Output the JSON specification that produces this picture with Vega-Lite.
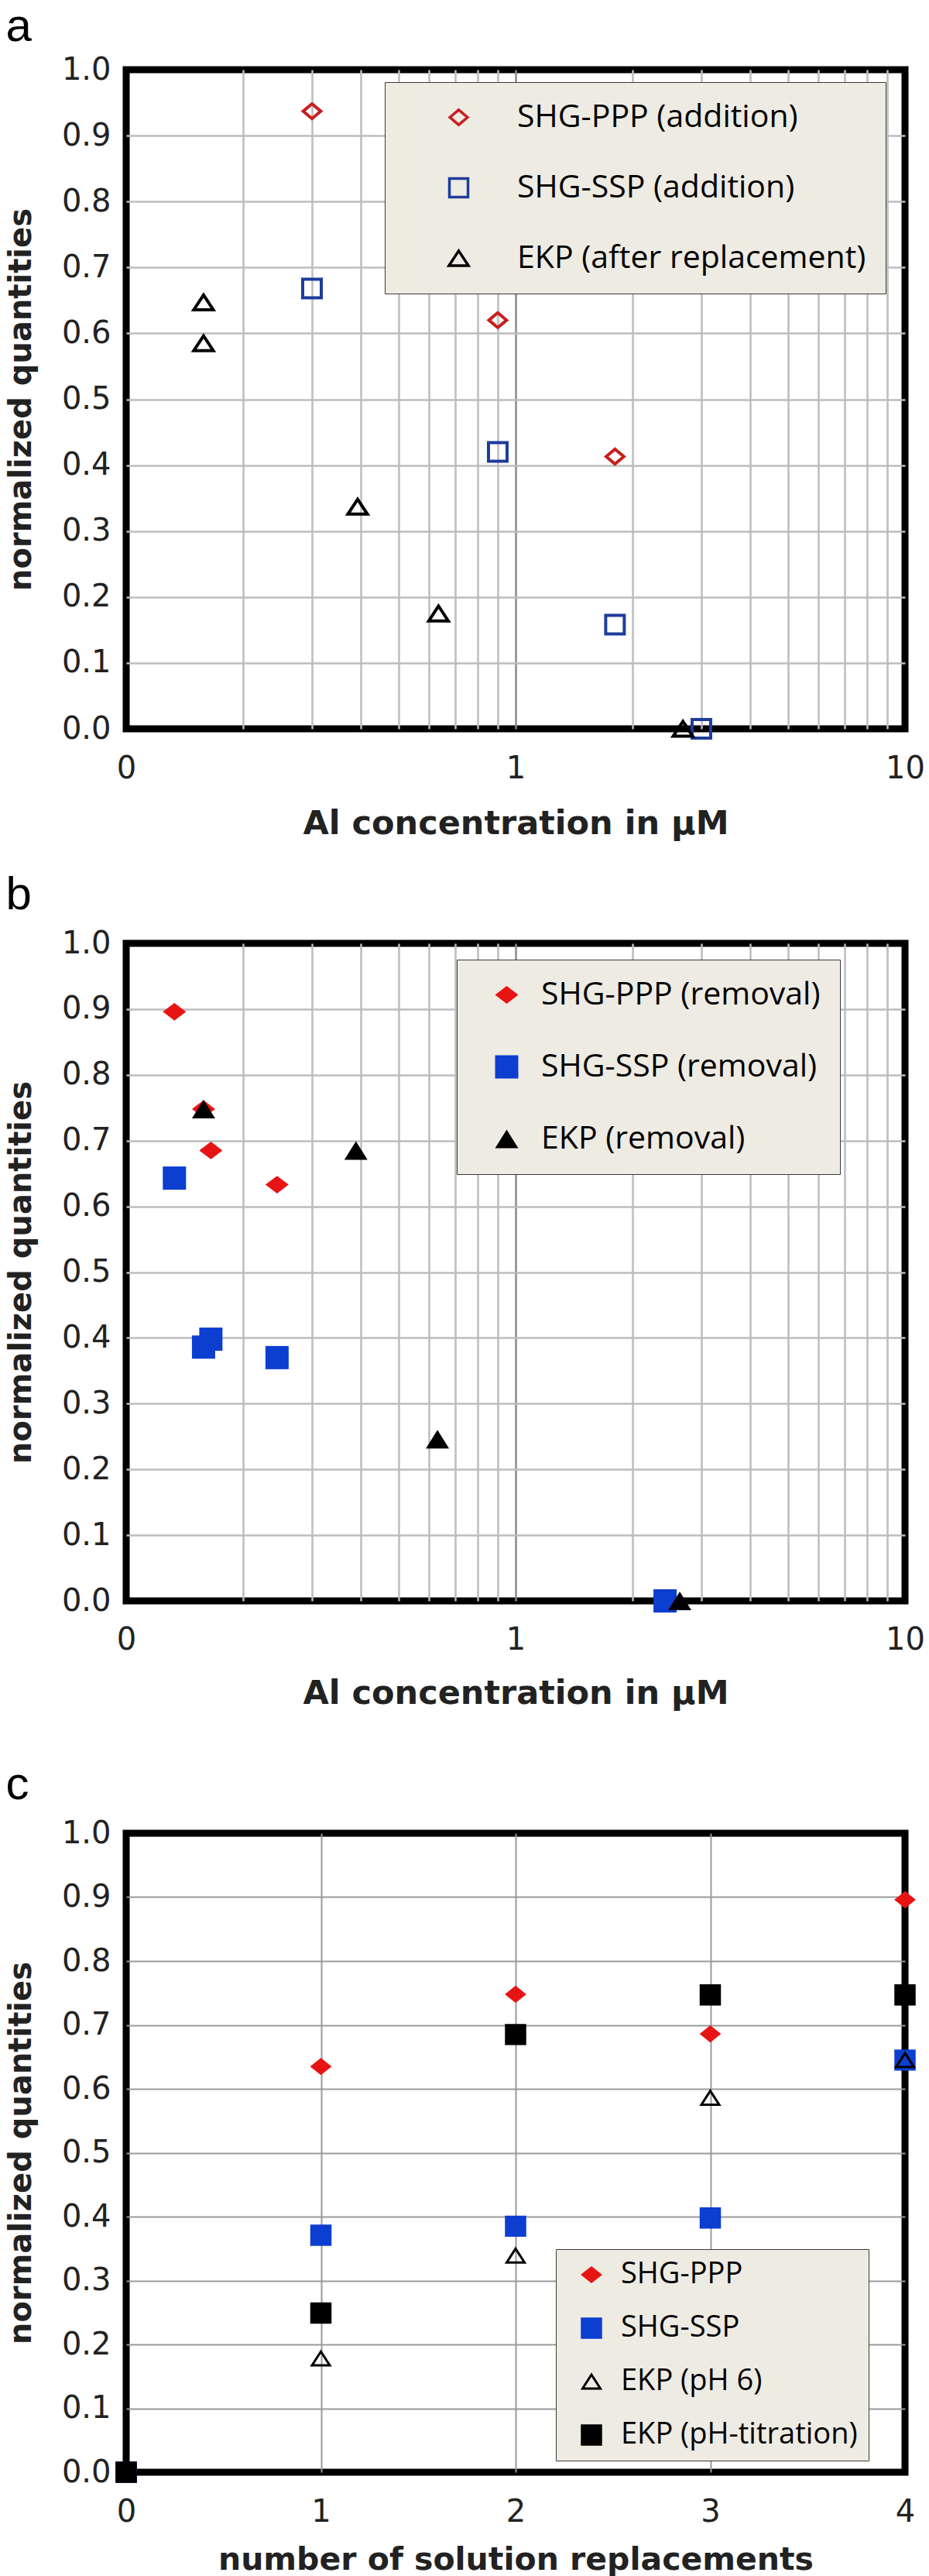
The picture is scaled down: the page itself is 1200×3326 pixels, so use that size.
{
  "$schema": "https://vega.github.io/schema/vega-lite/v6.json",
  "background": "white",
  "padding": {"left": 2, "top": 0, "right": 10, "bottom": 0},
  "datasets": {
    "a": [
      {"series": "SHG-PPP (addition)", "conc": 0.3, "value": 0.937},
      {"series": "SHG-PPP (addition)", "conc": 0.9, "value": 0.62},
      {"series": "SHG-PPP (addition)", "conc": 1.8, "value": 0.413},
      {"series": "SHG-SSP (addition)", "conc": 0.3, "value": 0.668},
      {"series": "SHG-SSP (addition)", "conc": 0.9, "value": 0.42},
      {"series": "SHG-SSP (addition)", "conc": 1.8, "value": 0.158},
      {"series": "SHG-SSP (addition)", "conc": 3.0, "value": 0},
      {"series": "EKP (after replacement)", "conc": 0.158, "value": 0.647},
      {"series": "EKP (after replacement)", "conc": 0.158, "value": 0.585},
      {"series": "EKP (after replacement)", "conc": 0.393, "value": 0.337},
      {"series": "EKP (after replacement)", "conc": 0.634, "value": 0.175},
      {"series": "EKP (after replacement)", "conc": 2.69, "value": 0}
    ],
    "b": [
      {"series": "SHG-PPP (removal)", "conc": 0.133, "value": 0.896},
      {"series": "SHG-PPP (removal)", "conc": 0.158, "value": 0.748},
      {"series": "SHG-PPP (removal)", "conc": 0.165, "value": 0.685},
      {"series": "SHG-PPP (removal)", "conc": 0.244, "value": 0.633},
      {"series": "SHG-SSP (removal)", "conc": 0.133, "value": 0.643},
      {"series": "SHG-SSP (removal)", "conc": 0.158, "value": 0.386},
      {"series": "SHG-SSP (removal)", "conc": 0.165, "value": 0.398},
      {"series": "SHG-SSP (removal)", "conc": 0.244, "value": 0.37},
      {"series": "SHG-SSP (removal)", "conc": 2.42, "value": 0},
      {"series": "EKP (removal)", "conc": 0.158, "value": 0.748},
      {"series": "EKP (removal)", "conc": 0.389, "value": 0.685},
      {"series": "EKP (removal)", "conc": 0.63, "value": 0.246},
      {"series": "EKP (removal)", "conc": 2.64, "value": 0}
    ],
    "c": [
      {"series": "SHG-PPP", "n": 0, "value": 0},
      {"series": "SHG-PPP", "n": 1, "value": 0.635},
      {"series": "SHG-PPP", "n": 2, "value": 0.748},
      {"series": "SHG-PPP", "n": 3, "value": 0.686},
      {"series": "SHG-PPP", "n": 4, "value": 0.896},
      {"series": "SHG-SSP", "n": 0, "value": 0},
      {"series": "SHG-SSP", "n": 1, "value": 0.371},
      {"series": "SHG-SSP", "n": 2, "value": 0.385},
      {"series": "SHG-SSP", "n": 3, "value": 0.398},
      {"series": "SHG-SSP", "n": 4, "value": 0.645},
      {"series": "EKP (pH 6)", "n": 0, "value": 0},
      {"series": "EKP (pH 6)", "n": 1, "value": 0.178},
      {"series": "EKP (pH 6)", "n": 2, "value": 0.339},
      {"series": "EKP (pH 6)", "n": 3, "value": 0.586},
      {"series": "EKP (pH 6)", "n": 4, "value": 0.645},
      {"series": "EKP (pH-titration)", "n": 0, "value": 0},
      {"series": "EKP (pH-titration)", "n": 1, "value": 0.249},
      {"series": "EKP (pH-titration)", "n": 2, "value": 0.685},
      {"series": "EKP (pH-titration)", "n": 3, "value": 0.747},
      {"series": "EKP (pH-titration)", "n": 4, "value": 0.747}
    ]
  },
  "config": {
    "view": {"stroke": "#000000", "strokeWidth": 9},
    "axis": {
      "labelFont": "DejaVu Sans", "labelFontSize": 40, "labelColor": "#222222",
      "titleFont": "DejaVu Sans", "titleFontSize": 40, "titleFontWeight": "bold", "titleColor": "#222222",
      "ticks": false, "tickSize": 0, "domain": false, "labelFlush": false, "labelOverlap": false,
      "gridWidth": 2.5
    },
    "legend": {"labelFont": "Open Sans", "labelLimit": 0, "labelBaseline": "middle"},
    "title": {"font": "Liberation Sans", "fontSize": 60, "fontWeight": "normal", "anchor": "start", "frame": "bounds", "color": "#000000", "baseline": "alphabetic"}
  },
  "resolve": {"scale": {"x": "independent", "y": "independent", "color": "independent", "shape": "independent", "fill": "independent", "stroke": "independent"}, "legend": {"color": "independent", "shape": "independent", "fill": "independent", "stroke": "independent"}},
  "bounds": "flush",
  "spacing": 277,
  "vconcat": [
    {
      "width": 1006, "height": 851,
      "title": {"text": "a", "offset": 4},
      "data": {"name": "a"},
      "mark": {"type": "point", "filled": false, "strokeWidth": 4, "size": 576, "opacity": 1},
      "encoding": {
        "x": {"field": "conc", "type": "quantitative", "scale": {"type": "log", "domain": [0.1, 10], "nice": false},
          "axis": {"title": "Al concentration in μM", "titleFontSize": 43, "values": [0.1, 0.2, 0.3, 0.4, 0.5, 0.6, 0.7, 0.8, 0.9, 1, 2, 3, 4, 5, 6, 7, 8, 9, 10],
            "labelExpr": "datum.value == 0.1 ? '0' : datum.value == 1 ? '1' : datum.value == 10 ? '10' : ''",
            "labelPadding": 31, "titlePadding": 30,
            "gridColor": {"condition": [{"test": "datum.value == 1", "value": "#8a8a8a"}, {"test": "datum.value == 0.1 || datum.value == 10", "value": "transparent"}], "value": "#bdbdbd"}}},
        "y": {"field": "value", "type": "quantitative", "scale": {"domain": [0, 1], "nice": false},
          "axis": {"title": "normalized quantities", "values": [0, 0.1, 0.2, 0.3, 0.4, 0.5, 0.6, 0.7, 0.8, 0.9, 1], "format": ".1f",
            "labelPadding": 20, "titlePadding": 32,
            "gridColor": {"condition": {"test": "datum.value == 0 || datum.value == 1", "value": "transparent"}, "value": "#bdbdbd"}}},
        "color": {"field": "series", "type": "nominal",
          "scale": {"domain": ["SHG-PPP (addition)", "SHG-SSP (addition)", "EKP (after replacement)"], "range": ["#c81e1e", "#1f3c9c", "#000000"]},
          "legend": {"title": null, "orient": "none", "legendX": 334, "legendY": 16, "padding": 25, "rowPadding": 49,
            "fillColor": "#eeebe3", "strokeColor": "#3a3a3a", "labelFontSize": 41,
            "symbolSize": 576, "symbolStrokeWidth": 3.5, "symbolOffset": 50, "labelOffset": 55,
            "labelExpr": "datum.label + '\u00a0\u00a0\u00a0\u00a0\u00a0\u00a0'",
            "encode": {"labels": {"update": {"fill": {"signal": "indexof(datum.value, 'PPP') >= 0 ? '#d0302f' : indexof(datum.value, 'SSP') >= 0 ? '#2a46a6' : '#1a1a1a'"}}},
                       "legend": {"update": {"strokeWidth": {"value": 2}}}}}},
        "shape": {"field": "series", "type": "nominal",
          "scale": {"domain": ["SHG-PPP (addition)", "SHG-SSP (addition)", "EKP (after replacement)"], "range": ["M-0.95,0L0,-0.8L0.95,0L0,0.8Z", "square", "M0,-0.8L1.05,0.8L-1.05,0.8Z"]}}
      }
    },
    {
      "bounds": "flush",
      "spacing": 300,
      "resolve": {"scale": {"x": "independent", "y": "independent", "color": "independent", "shape": "independent", "fill": "independent", "stroke": "independent"}, "legend": {"color": "independent", "shape": "independent", "fill": "independent", "stroke": "independent"}},
      "vconcat": [
        {
          "width": 1006, "height": 849,
          "title": {"text": "b", "offset": 11},
          "data": {"name": "b"},
          "mark": {"type": "point", "filled": true, "strokeWidth": 0, "size": 900, "opacity": 1},
          "encoding": {
            "x": {"field": "conc", "type": "quantitative", "scale": {"type": "log", "domain": [0.1, 10], "nice": false},
              "axis": {"title": "Al concentration in μM", "titleFontSize": 43, "values": [0.1, 0.2, 0.3, 0.4, 0.5, 0.6, 0.7, 0.8, 0.9, 1, 2, 3, 4, 5, 6, 7, 8, 9, 10],
                "labelExpr": "datum.value == 0.1 ? '0' : datum.value == 1 ? '1' : datum.value == 10 ? '10' : ''",
                "labelPadding": 30, "titlePadding": 28,
                "gridColor": {"condition": [{"test": "datum.value == 1", "value": "#8a8a8a"}, {"test": "datum.value == 0.1 || datum.value == 10", "value": "transparent"}], "value": "#bdbdbd"}}},
            "y": {"field": "value", "type": "quantitative", "scale": {"domain": [0, 1], "nice": false},
              "axis": {"title": "normalized quantities", "values": [0, 0.1, 0.2, 0.3, 0.4, 0.5, 0.6, 0.7, 0.8, 0.9, 1], "format": ".1f",
                "labelPadding": 20, "titlePadding": 32,
                "gridColor": {"condition": {"test": "datum.value == 0 || datum.value == 1", "value": "transparent"}, "value": "#bdbdbd"}}},
            "color": {"field": "series", "type": "nominal",
              "scale": {"domain": ["SHG-PPP (removal)", "SHG-SSP (removal)", "EKP (removal)"], "range": ["#e81414", "#0c3ed0", "#000000"]},
              "legend": {"title": null, "orient": "none", "legendX": 427, "legendY": 21, "padding": 25, "rowPadding": 51,
                "fillColor": "#eeebe3", "strokeColor": "#3a3a3a", "labelFontSize": 41,
                "symbolSize": 900, "symbolStrokeWidth": 0, "symbolOffset": 19, "labelOffset": 24,
                "labelExpr": "datum.label + '\u00a0\u00a0'",
                "encode": {"labels": {"update": {"fill": {"signal": "indexof(datum.value, 'PPP') >= 0 ? '#d0302f' : indexof(datum.value, 'SSP') >= 0 ? '#2a46a6' : '#1a1a1a'"}}},
                           "legend": {"update": {"strokeWidth": {"value": 2}}}}}},
            "shape": {"field": "series", "type": "nominal",
              "scale": {"domain": ["SHG-PPP (removal)", "SHG-SSP (removal)", "EKP (removal)"], "range": ["M-1,0L0,-0.76L1,0L0,0.76Z", "square", "M0,-0.8L1,0.8L-1,0.8Z"]}}
          }
        },
        {
          "width": 1006, "height": 825,
          "title": {"text": "c", "offset": 11},
          "data": {"name": "c"},
          "mark": {"type": "point", "filled": true, "strokeWidth": 3, "size": 600, "opacity": 1},
          "encoding": {
            "x": {"field": "n", "type": "quantitative", "scale": {"domain": [0, 4], "nice": false},
              "axis": {"title": "number of solution replacements", "titleFontSize": 41, "values": [0, 1, 2, 3, 4], "format": "d",
                "labelPadding": 31, "titlePadding": 22, "gridWidth": 2,
                "gridColor": {"condition": {"test": "datum.value == 0 || datum.value == 4", "value": "transparent"}, "value": "#9a9a9a"}}},
            "y": {"field": "value", "type": "quantitative", "scale": {"domain": [0, 1], "nice": false},
              "axis": {"title": "normalized quantities", "values": [0, 0.1, 0.2, 0.3, 0.4, 0.5, 0.6, 0.7, 0.8, 0.9, 1], "format": ".1f",
                "labelPadding": 20, "titlePadding": 32, "gridWidth": 2,
                "gridColor": {"condition": {"test": "datum.value == 0 || datum.value == 1", "value": "transparent"}, "value": "#9a9a9a"}}},
            "fill": {"field": "series", "type": "nominal",
              "scale": {"domain": ["SHG-PPP", "SHG-SSP", "EKP (pH 6)", "EKP (pH-titration)"], "range": ["#e81414", "#0c3ed0", "transparent", "#000000"]},
              "legend": {"title": null, "orient": "none", "legendX": 555, "legendY": 537, "padding": 14, "rowPadding": 31,
                "fillColor": "#eeebe3", "strokeColor": "#3a3a3a", "labelFontSize": 38,
                "symbolSize": 600, "symbolStrokeWidth": 3, "symbolOffset": 13, "labelOffset": 19,
                "labelExpr": "datum.label + '\u00a0\u00a0\u00a0\u00a0\u00a0\u00a0'",
                "encode": {"labels": {"update": {"fill": {"signal": "indexof(datum.value, 'PPP') >= 0 ? '#d0302f' : indexof(datum.value, 'SSP') >= 0 ? '#2a46a6' : '#1a1a1a'"}}},
                           "legend": {"update": {"strokeWidth": {"value": 2}}}}}},
            "stroke": {"field": "series", "type": "nominal",
              "scale": {"domain": ["SHG-PPP", "SHG-SSP", "EKP (pH 6)", "EKP (pH-titration)"], "range": ["#e81414", "#0c3ed0", "#000000", "#000000"]}},
            "shape": {"field": "series", "type": "nominal",
              "scale": {"domain": ["SHG-PPP", "SHG-SSP", "EKP (pH 6)", "EKP (pH-titration)"], "range": ["M-0.94,0L0,-0.75L0.94,0L0,0.75Z", "square", "M0,-0.73L0.94,0.73L-0.94,0.73Z", "square"]}}
          }
        }
      ]
    }
  ]
}
